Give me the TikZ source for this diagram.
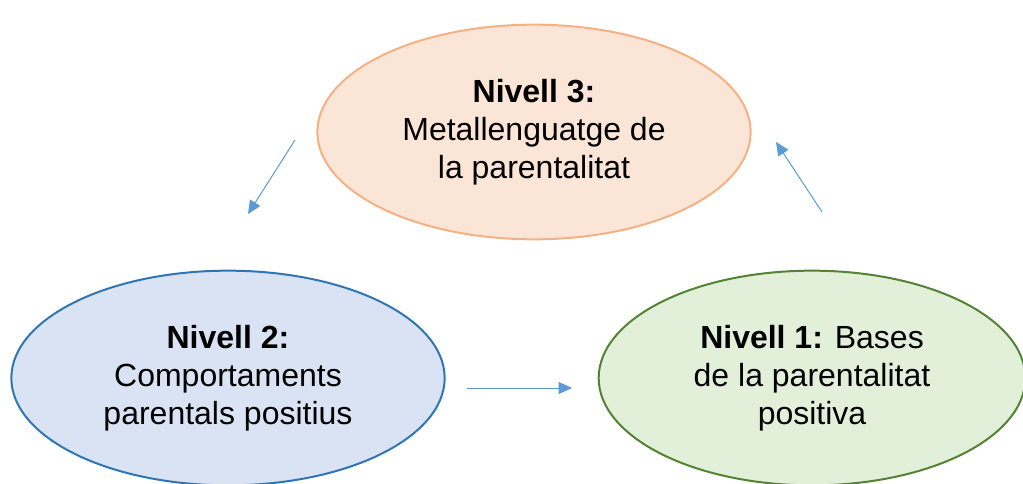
\documentclass[tikz,border=0pt]{standalone}
\usepackage{fontspec}
\setmainfont{Liberation Sans}
\usetikzlibrary{shapes.geometric,arrows.meta}
\definecolor{peachfill}{HTML}{FBE5D6}
\definecolor{peachline}{HTML}{F4B183}
\definecolor{bluefill}{HTML}{DAE3F3}
\definecolor{blueline}{HTML}{2E75B6}
\definecolor{greenfill}{HTML}{E2F0D9}
\definecolor{greenline}{HTML}{548235}
\definecolor{arrowblue}{HTML}{5B9BD5}
\begin{document}
\begin{tikzpicture}
  [x=0.75pt,y=-0.75pt,
   every node/.style={ellipse,inner sep=0pt,align=center,line width=1.5pt,
     minimum width=325pt,minimum height=161pt,
     font=\fontsize{24}{28.5}\selectfont},
   flow/.style={line width=0.75pt,arrowblue,-{Triangle[length=10pt,width=9pt]}}]
  \useasboundingbox (0,0) rectangle (1023,484);

  \node[draw=peachline,fill=peachfill] (n3) at (534,132)
    {\textbf{Nivell 3:}\\Metallenguatge de\\la parentalitat};
  \node[draw=blueline,fill=bluefill] (n2) at (228,378)
    {\textbf{Nivell 2:}\\Comportaments\\parentals positius};
  \node[draw=greenline,fill=greenfill,minimum width=320pt] (n1) at (812,378)
    {\textbf{Nivell 1:} Bases\\de la parentalitat\\positiva};

  \coordinate (a3) at (295,140);
  \coordinate (b3) at (248,214);
  \coordinate (a2) at (467,388);
  \coordinate (b2) at (572,388);
  \coordinate (a1) at (822,212);
  \coordinate (b1) at (776,142);

  \draw[flow] (a3) -- (b3);
  \draw[flow] (a2) -- (b2);
  \draw[flow] (a1) -- (b1);

\end{tikzpicture}
\end{document}
